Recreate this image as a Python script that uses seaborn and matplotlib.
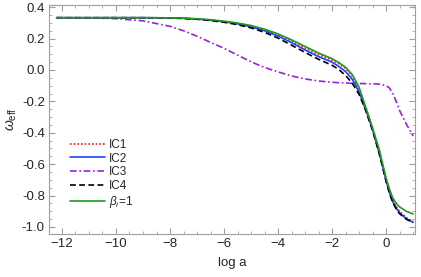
import matplotlib
matplotlib.use("Agg")
import matplotlib.pyplot as plt
import seaborn as sns
import numpy as np
import pandas as pd
from matplotlib.ticker import MultipleLocator

# values
log_a = [-12.2, -11, -10, -9, -8, -7.5, -7, -6.5, -6, -5.5, -5, -4.5, -4, -3.5, -3,
         -2.5, -2, -1.75, -1.5, -1.25, -1, -0.75, -0.5, -0.25, 0, 0.125, 0.25, 0.375, 0.5, 0.75, 1.0]

ic1 = [0.333, 0.333, 0.333, 0.333, 0.332, 0.330, 0.325, 0.319, 0.309, 0.297, 0.280, 0.256, 0.224, 0.184, 0.140,
       0.098, 0.063, 0.040, 0.010, -0.040, -0.120, -0.240, -0.370, -0.515, -0.690, -0.765, -0.830, -0.870, -0.900, -0.940, -0.965]
ic2 = [0.333, 0.333, 0.333, 0.333, 0.332, 0.329, 0.324, 0.317, 0.307, 0.294, 0.275, 0.250, 0.216, 0.174, 0.128,
       0.085, 0.050, 0.022, -0.010, -0.060, -0.140, -0.255, -0.380, -0.530, -0.705, -0.780, -0.840, -0.880, -0.910, -0.948, -0.970]
ic3 = [0.333, 0.332, 0.327, 0.313, 0.278, 0.250, 0.215, 0.176, 0.138, 0.095, 0.052, 0.016, -0.012, -0.038, -0.057,
       -0.070, -0.078, -0.081, -0.083, -0.085, -0.086, -0.087, -0.088, -0.090, -0.100, -0.115, -0.150, -0.200, -0.258, -0.345, -0.420]
ic4 = [0.333, 0.333, 0.333, 0.333, 0.331, 0.328, 0.323, 0.315, 0.304, 0.289, 0.268, 0.240, 0.203, 0.158, 0.112,
       0.068, 0.030, 0.003, -0.035, -0.085, -0.155, -0.260, -0.385, -0.535, -0.710, -0.785, -0.845, -0.885, -0.915, -0.950, -0.972]
beta1 = [0.333, 0.333, 0.333, 0.333, 0.332, 0.330, 0.326, 0.320, 0.311, 0.299, 0.283, 0.260, 0.230, 0.192, 0.150,
         0.108, 0.072, 0.047, 0.017, -0.030, -0.110, -0.240, -0.370, -0.510, -0.690, -0.760, -0.815, -0.850, -0.872, -0.900, -0.917]

labels = ["IC1", "IC2", "IC3", "IC4", r"$\beta_i$=1"]
series = [ic1, ic2, ic3, ic4, beta1]
colors = ["#ff1a1a", "#2040ff", "#9a20e0", "black", "#1e9a1e"]
dashes = [(1, 1.2), "", (4, 1.6, 1, 1.6), (3.5, 2), ""]

sns.set_style("ticks")
plt.rcParams['font.family'] = ['Liberation Sans', 'DejaVu Sans']
plt.rcParams['mathtext.fontset'] = 'custom'
plt.rcParams['mathtext.rm'] = 'Liberation Sans'
plt.rcParams['mathtext.it'] = 'Liberation Sans:italic'

fig = plt.figure(figsize=(4.21, 2.77), dpi=100)
ax = fig.add_axes([0.1164, 0.155, 0.8693, 0.827])

for y, lab, c, d in zip(series, labels, colors, dashes):
    df = pd.DataFrame({"log a": log_a, "w": y})
    sns.lineplot(data=df, x="log a", y="w", ax=ax, color=c, lw=1.2, label=lab)
    if d:
        ax.lines[-1].set_dashes(d)

ax.set_xlim(-12.48, 1.07)
ax.set_ylim(-1.045, 0.414)
ax.xaxis.set_major_locator(MultipleLocator(2))
ax.xaxis.set_minor_locator(MultipleLocator(0.5))
ax.yaxis.set_major_locator(MultipleLocator(0.2))
ax.yaxis.set_minor_locator(MultipleLocator(0.05))
ax.yaxis.set_major_formatter(matplotlib.ticker.FormatStrFormatter("%.1f"))
ax.tick_params(which='both', direction='in', top=True, right=True, color='#a0a0a0',
               labelsize=9.5, pad=3)
ax.tick_params(which='major', length=4, width=0.8)
ax.tick_params(which='minor', length=2, width=0.6)
for s in ax.spines.values():
    s.set_color('#a0a0a0')
    s.set_linewidth(0.8)

ax.set_xlabel("log a", fontsize=9.5, labelpad=5)
ax.set_ylabel(r"$\omega_{\rm eff}$", fontsize=10, labelpad=2)

ax.legend(loc='lower left', bbox_to_anchor=(0.04, 0.08), frameon=False, fontsize=8.5,
          handlelength=3, handletextpad=0.3, labelspacing=0.15, borderpad=0)

fig.savefig("out.png", dpi=100)
